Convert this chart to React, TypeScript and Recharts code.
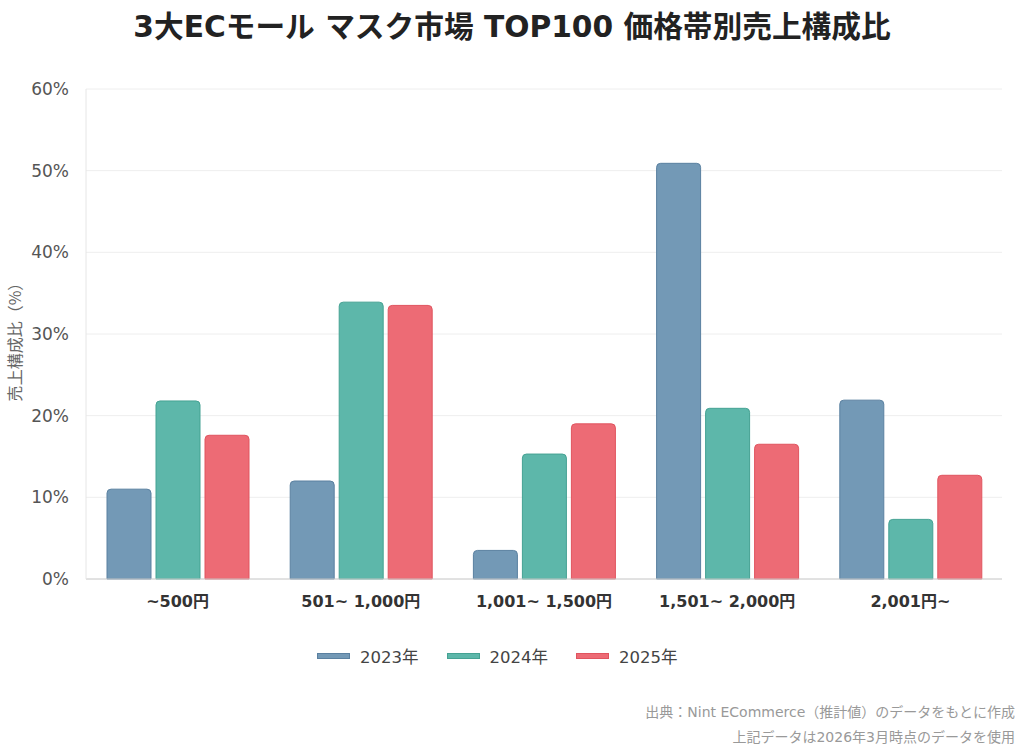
import React from 'react';
import { BarChart, Bar, XAxis, YAxis, CartesianGrid } from 'recharts';

const categories = ['~500円', '501~ 1,000円', '1,001~ 1,500円', '1,501~ 2,000円', '2,001円~'];
const share2023 = [11.0, 12.0, 3.5, 50.9, 21.9];
const share2024 = [21.8, 33.9, 15.3, 20.9, 7.3];
const share2025 = [17.6, 33.5, 19.0, 16.5, 12.7];
const yTicks = [0, 10, 20, 30, 40, 50, 60];

const series = [
  { key: 'y2023', name: '2023年', fill: '#7399b6', stroke: '#5a80a0' },
  { key: 'y2024', name: '2024年', fill: '#5db7aa', stroke: '#45a293' },
  { key: 'y2025', name: '2025年', fill: '#ed6b75', stroke: '#e0545f' },
];

const data = categories.map((c, i) => ({
  name: c,
  y2023: share2023[i],
  y2024: share2024[i],
  y2025: share2025[i],
}));

const font = '"DejaVu Sans", "Noto Sans CJK JP", sans-serif';

const App: React.FC = () => {
  return (
    <div style={{ position: 'absolute', left: 0, top: 0, width: 1024, height: 749, background: '#fff', fontFamily: font }}>
      <div style={{ position: 'absolute', top: 3, left: 0, width: 1024, textAlign: 'center', fontSize: 29.7, fontWeight: 700, color: '#222' }}>
        3大ECモール マスク市場 TOP100 価格帯別売上構成比
      </div>
      <BarChart
        width={1024}
        height={749}
        data={data}
        margin={{ top: 89, right: 22, left: 26, bottom: 140 }}
        barGap={5}
        barCategoryGap={21}
      >
        <CartesianGrid vertical={false} stroke="#eeeeee" />
        <XAxis
          dataKey="name"
          height={30}
          tickLine={false}
          axisLine={{ stroke: '#cccccc' }}
          tick={{ fontSize: 16, fontWeight: 700, fill: '#333', fontFamily: font }}
          tickMargin={11}
        />
        <YAxis
          width={60}
          domain={[0, 60]}
          ticks={yTicks}
          tickFormatter={(v) => `${v}%`}
          tickLine={false}
          axisLine={{ stroke: '#e6e6e6' }}
          tick={{ fontSize: 17, fill: '#555', fontFamily: font }}
          tickMargin={11}
        />
        {series.map((s) => (
          <Bar
            key={s.key}
            dataKey={s.key}
            name={s.name}
            fill={s.fill}
            stroke={s.stroke}
            strokeWidth={1}
            radius={[4, 4, 0, 0]}
            isAnimationActive={false}
          />
        ))}
      </BarChart>
      <div
        style={{
          position: 'absolute',
          left: 14,
          top: 338,
          transform: 'translate(-50%, -50%) rotate(-90deg)',
          whiteSpace: 'nowrap',
          fontSize: 16,
          color: '#666',
          fontFamily: '"Noto Sans CJK JP", sans-serif',
        }}
      >
        売上構成比（%）
      </div>
      <div style={{ position: 'absolute', top: 644, left: 317, display: 'flex', gap: 28, fontSize: 16.5, color: '#444' }}>
        {series.map((s) => (
          <div key={s.key} style={{ display: 'flex', alignItems: 'center' }}>
            <span style={{ display: 'inline-block', width: 31, height: 4, background: s.fill, border: `1px solid ${s.stroke}`, marginRight: 10 }} />
            {s.name}
          </div>
        ))}
      </div>
      <div style={{ position: 'absolute', top: 700, right: 9, textAlign: 'right', fontSize: 14, color: '#999', lineHeight: '25px' }}>
        <div>出典：Nint ECommerce（推計値）のデータをもとに作成</div>
        <div>上記データは2026年3月時点のデータを使用</div>
      </div>
    </div>
  );
};

export default App;
